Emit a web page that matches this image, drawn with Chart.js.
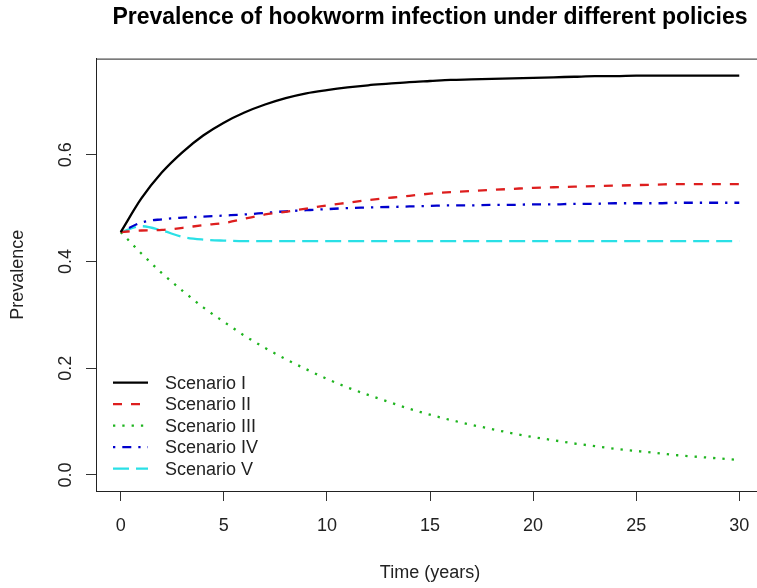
<!DOCTYPE html>
<html>
<head>
    <meta charset="UTF-8">
    <title>Prevalence of hookworm infection</title>
    <script src="https://cdn.jsdelivr.net/npm/chart.js"></script>
    <style>
        body {
          margin: 0;
          padding: 0;
          background-color: #fff;
          overflow: hidden;
        }
        canvas {
          display: block;
        }
    </style>
</head>
<body>
<canvas id="lineChart" width="775" height="588"></canvas>

<script>
    const years = [0, 1, 2, 3, 4, 5, 6, 7, 8, 9, 10, 11, 12, 13, 14, 15, 16, 17, 18, 19, 20, 21, 22, 23, 24, 25, 26, 27, 28, 29, 30];
    const scenarioI = [0.455, 0.518, 0.567, 0.605, 0.636, 0.660, 0.679, 0.694, 0.706, 0.715, 0.721, 0.726, 0.730, 0.733, 0.736, 0.738, 0.740, 0.741, 0.742, 0.743, 0.744, 0.745, 0.746, 0.747, 0.747, 0.748, 0.748, 0.748, 0.748, 0.748, 0.748];
    const scenarioII = [0.455, 0.458, 0.459, 0.463, 0.468, 0.472, 0.480, 0.488, 0.493, 0.499, 0.505, 0.510, 0.515, 0.519, 0.523, 0.527, 0.530, 0.532, 0.534, 0.536, 0.538, 0.539, 0.540, 0.541, 0.542, 0.543, 0.544, 0.545, 0.545, 0.545, 0.545];
    const scenarioIII = [0.455, 0.415, 0.378, 0.345, 0.314, 0.287, 0.261, 0.238, 0.217, 0.198, 0.180, 0.164, 0.150, 0.137, 0.124, 0.113, 0.103, 0.094, 0.086, 0.078, 0.071, 0.065, 0.059, 0.054, 0.049, 0.045, 0.041, 0.037, 0.034, 0.031, 0.028];
    const scenarioIV = [0.455, 0.473, 0.479, 0.482, 0.484, 0.486, 0.488, 0.491, 0.494, 0.496, 0.498, 0.500, 0.501, 0.502, 0.503, 0.504, 0.505, 0.505, 0.506, 0.506, 0.507, 0.507, 0.508, 0.508, 0.509, 0.509, 0.509, 0.510, 0.510, 0.510, 0.510];
    const scenarioV = [0.455, 0.466, 0.458, 0.446, 0.441, 0.439, 0.438, 0.438, 0.438, 0.438, 0.438, 0.438, 0.438, 0.438, 0.438, 0.438, 0.438, 0.438, 0.438, 0.438, 0.438, 0.438, 0.438, 0.438, 0.438, 0.438, 0.438, 0.438, 0.438, 0.438, 0.438];
    const seriesNames = ["Scenario I", "Scenario II", "Scenario III", "Scenario IV", "Scenario V"];
    const xTicks = [0, 5, 10, 15, 20, 25, 30];
    const yTicks = [0.0, 0.2, 0.4, 0.6];

    const FONT = "'Liberation Sans', Arial, sans-serif";
    const LW = 2.3;

    function pts(values) {
      return values.map((v, i) => ({ x: years[i], y: v }));
    }

    const styles = [
      { color: "#000000", dash: [] },
      { color: "#DD1E1E", dash: [9, 9] },
      { color: "#1EB41E", dash: [2.3, 7] },
      { color: "#0000CD", dash: [2.3, 7, 9, 7] },
      { color: "#2AE0E6", dash: [16, 7] }
    ];
    const allSeries = [scenarioI, scenarioII, scenarioIII, scenarioIV, scenarioV];

    // plot box + legend inside the plot, like R's bty="n" legend
    const boxAndLegend = {
      id: "boxAndLegend",
      afterDraw(chart) {
        const ctx = chart.ctx;
        const a = chart.chartArea;
        ctx.save();
        ctx.strokeStyle = "#222";
        ctx.lineWidth = 1;
        ctx.strokeRect(a.left + 0.5, a.top + 0.5, a.right - a.left, a.bottom - a.top);

        ctx.font = "18px " + FONT;
        ctx.textBaseline = "middle";
        ctx.fillStyle = "#222";
        chart.data.datasets.forEach((ds, i) => {
          const y = a.top + 324 + i * 21.5;
          ctx.beginPath();
          ctx.strokeStyle = ds.borderColor;
          ctx.lineWidth = ds.borderWidth;
          ctx.lineCap = "butt";
          ctx.setLineDash(ds.borderDash);
          ctx.moveTo(a.left + 17, y);
          ctx.lineTo(a.left + 52, y);
          ctx.stroke();
          ctx.setLineDash([]);
          ctx.fillText(ds.label, a.left + 69, y + 1);
        });
        ctx.restore();
      }
    };

    const ctx = document.getElementById("lineChart").getContext("2d");
    new Chart(ctx, {
      type: "line",
      data: {
        datasets: allSeries.map((s, i) => ({
          label: seriesNames[i],
          data: pts(s),
          borderColor: styles[i].color,
          borderDash: styles[i].dash,
          borderWidth: LW,
          borderCapStyle: "butt",
          pointRadius: 0,
          fill: false,
          cubicInterpolationMode: "monotone"
        }))
      },
      options: {
        responsive: false,
        animation: false,
        layout: { padding: { top: 0, right: 11, bottom: 0, left: 0 } },
        plugins: {
          legend: { display: false },
          tooltip: { enabled: false },
          title: {
            display: true,
            text: "Prevalence of hookworm infection under different policies",
            fullSize: false,
            color: "#000",
            font: { family: FONT, size: 23, weight: "bold" },
            padding: { top: 4, bottom: 27 }
          }
        },
        scales: {
          x: {
            type: "linear",
            min: -1.2,
            max: 31.2,
            afterBuildTicks: s => { s.ticks = xTicks.map(v => ({ value: v })); },
            afterFit: s => { s.height = 97; },
            grid: { drawOnChartArea: false, drawTicks: true, tickLength: 10, color: "#333" },
            border: { display: true, color: "#222" },
            ticks: {
              color: "#222",
              font: { family: FONT, size: 18 },
              padding: 14,
              maxRotation: 0,
              autoSkip: false
            },
            title: {
              display: true,
              text: "Time (years)",
              color: "#222",
              font: { family: FONT, size: 18 },
              padding: { top: 0, bottom: 4 }
            }
          },
          y: {
            min: -0.03,
            max: 0.78,
            afterBuildTicks: s => { s.ticks = yTicks.map(v => ({ value: v })); },
            afterFit: s => { s.width = 96; },
            grid: { drawOnChartArea: false, drawTicks: true, tickLength: 10, color: "#333" },
            border: { display: true, color: "#222" },
            ticks: {
              color: "#222",
              font: { family: FONT, size: 18 },
              padding: 7,
              minRotation: 90,
              maxRotation: 90,
              crossAlign: "center",
              autoSkip: false,
              callback: v => v.toFixed(1)
            },
            title: {
              display: true,
              text: "Prevalence",
              color: "#222",
              font: { family: FONT, size: 18 },
              padding: { top: 7, bottom: 0 }
            }
          }
        }
      },
      plugins: [boxAndLegend]
    });
</script>
</body>
</html>
